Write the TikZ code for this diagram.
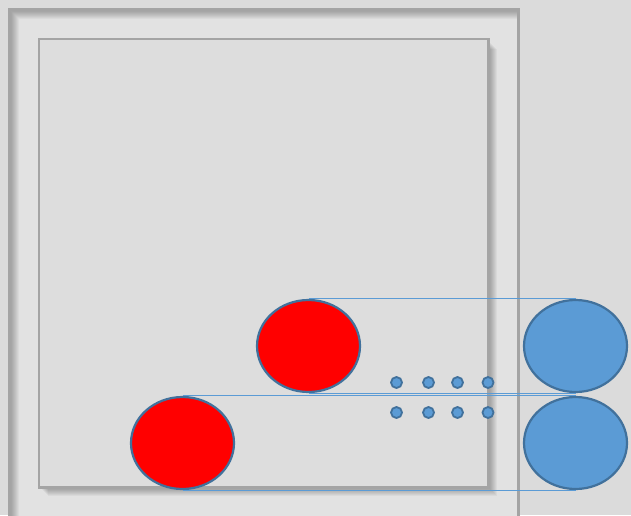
\documentclass[tikz,border=0pt]{standalone}
\usetikzlibrary{shapes.geometric}
\definecolor{bgc}{HTML}{DBDBDB}
\definecolor{matc}{HTML}{E2E2E2}
\definecolor{innerc}{HTML}{DDDDDD}
\definecolor{framec}{HTML}{A4A4A4}
\definecolor{bluef}{HTML}{5B9BD5}
\definecolor{blued}{HTML}{41719C}
\tikzset{
  ball/.style={ellipse, draw=blued, line width=2.2pt, minimum width=103pt, minimum height=92pt, inner sep=0pt},
  redball/.style={ball, fill=red},
  blueball/.style={ball, fill=bluef},
  dot/.style={circle, draw=blued, line width=1.8pt, fill=bluef, minimum size=11pt, inner sep=0pt},
  link/.style={draw=bluef, line width=1pt}
}
\begin{document}
\begin{tikzpicture}[x=1pt,y=-1pt]
\useasboundingbox (0,0) rectangle (631,515);
\clip (0,0) rectangle (631,515);
\fill[bgc] (0,0) rectangle (631,515);
% outer frame
\fill[matc] (9.5,9.5) rectangle (518.5,530);
\begin{scope}
  \clip (11,11) rectangle (517,530);
  \foreach \k in {1,...,8} {
    \fill[black, opacity=0.035, even odd rule] (11,11) rectangle (540,540) (11+\k,11+\k) rectangle (540,540);
  }
\end{scope}
\draw[framec, line width=3pt] (9.5,9.5) rectangle (518.5,530);
% inner frame shadow
\foreach \k in {1,...,9} {
  \fill[black, opacity=0.04] (39+\k,40+\k) rectangle (488+\k,487+\k);
}
\fill[innerc] (39,39) rectangle (488.5,487.5);
\draw[framec, line width=2.5pt] (39,39) rectangle (488.5,487.5);
% balls
\node[redball] (r1) at (308.5,346) {};
\node[blueball] (b1) at (575.5,346) {};
\node[redball] (r2) at (182.5,443) {};
\node[blueball] (b2) at (575.5,443) {};
% links
\draw[link] (r1.north) -- (b1.north);
\draw[link] (r1.south) -- (b1.south);
\draw[link] (r2.north) -- (b2.north);
\draw[link] (r2.south) -- (b2.south);
% dots
\node[dot] (d11) at (396.5,382.5) {};
\node[dot] (d12) at (428.5,382.5) {};
\node[dot] (d13) at (457.5,382.5) {};
\node[dot] (d14) at (488,382.5) {};
\node[dot] (d21) at (396.5,412.5) {};
\node[dot] (d22) at (428.5,412.5) {};
\node[dot] (d23) at (457.5,412.5) {};
\node[dot] (d24) at (488,412.5) {};
\end{tikzpicture}
\end{document}
